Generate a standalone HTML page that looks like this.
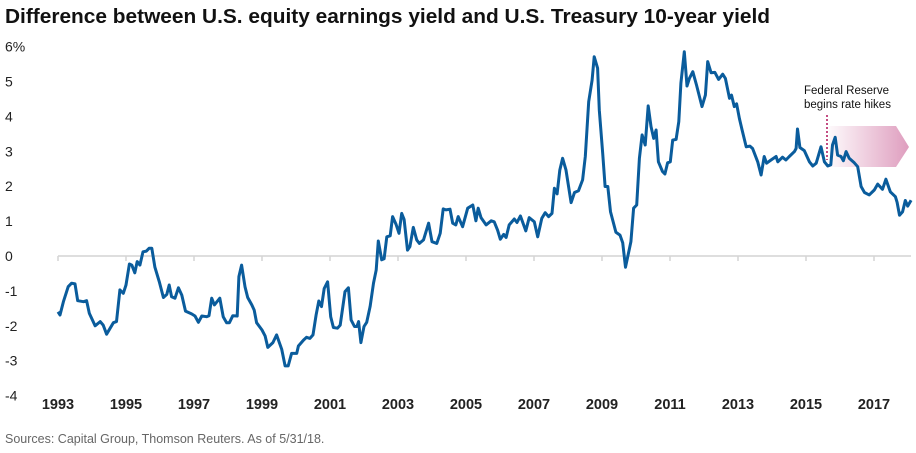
<!DOCTYPE html>
<html><head><meta charset="utf-8"><style>
html,body{margin:0;padding:0;background:#fff;}
svg{display:block;font-family:"Liberation Sans",sans-serif;}
</style></head><body>
<svg id="chart" width="916" height="453" viewBox="0 0 916 453">
<defs>
<linearGradient id="pinkGrad" x1="0" x2="1" y1="0" y2="0">
<stop offset="0" stop-color="#d98cb3" stop-opacity="0.05"/>
<stop offset="1" stop-color="#d98cb3" stop-opacity="0.85"/>
</linearGradient>
</defs>
<text x="5" y="23" font-size="20" font-weight="bold" fill="#111" textLength="765" lengthAdjust="spacingAndGlyphs">Difference between U.S. equity earnings yield and U.S. Treasury 10-year yield</text>
<g id="yaxis"></g>
<g id="xaxis"></g>
<g id="annot">
<polygon points="829,126 896,126 909,147 896,167 829,167" fill="url(#pinkGrad)"/>
<line x1="827" y1="115" x2="827" y2="160" stroke="#b0125a" stroke-width="1.5" stroke-dasharray="2,2"/>
<text x="804" y="94" font-size="11.5" fill="#111">Federal Reserve</text>
<text x="804" y="108" font-size="11.5" fill="#111">begins rate hikes</text>
</g>
<path id="series" fill="none" stroke="#0a5c9c" stroke-width="3" stroke-linejoin="round"/>
<text x="5" y="443" font-size="12.5" fill="#666">Sources: Capital Group, Thomson Reuters. As of 5/31/18.</text>
</svg>
<script>
const yTicks=[6,5,4,3,2,1,0,-1,-2,-3,-4];
const yTickLabels=["6%","5","4","3","2","1","0","-1","-2","-3","-4"];
const xTicks=[1993,1995,1997,1999,2001,2003,2005,2007,2009,2011,2013,2015,2017];
const years=[1993.0,1993.06,1993.16,1993.3,1993.4,1993.5,1993.58,1993.75,1993.84,1993.92,1994.09,1994.24,1994.33,1994.43,1994.63,1994.72,1994.82,1994.92,1995.0,1995.1,1995.17,1995.26,1995.33,1995.41,1995.5,1995.6,1995.68,1995.76,1995.85,1995.98,1996.1,1996.2,1996.27,1996.34,1996.44,1996.54,1996.64,1996.75,1996.93,1997.03,1997.13,1997.23,1997.37,1997.44,1997.52,1997.6,1997.76,1997.86,1997.96,1998.04,1998.14,1998.27,1998.32,1998.4,1998.5,1998.58,1998.7,1998.77,1998.84,1999.0,1999.09,1999.17,1999.32,1999.43,1999.58,1999.68,1999.77,1999.87,2000.02,2000.07,2000.22,2000.31,2000.41,2000.5,2000.59,2000.67,2000.75,2000.83,2000.93,2001.02,2001.1,2001.22,2001.3,2001.44,2001.54,2001.62,2001.72,2001.79,2001.84,2001.91,2002.0,2002.08,2002.18,2002.28,2002.36,2002.42,2002.52,2002.59,2002.67,2002.77,2002.84,2002.94,2003.03,2003.11,2003.18,2003.28,2003.35,2003.45,2003.55,2003.63,2003.75,2003.9,2004.0,2004.14,2004.24,2004.33,2004.41,2004.53,2004.61,2004.7,2004.77,2004.9,2005.05,2005.2,2005.29,2005.36,2005.44,2005.59,2005.74,2005.83,2005.93,2006.01,2006.11,2006.18,2006.27,2006.42,2006.5,2006.6,2006.76,2006.86,2007.01,2007.11,2007.23,2007.33,2007.43,2007.53,2007.6,2007.68,2007.76,2007.84,2007.94,2008.09,2008.19,2008.31,2008.43,2008.51,2008.61,2008.71,2008.77,2008.87,2008.92,2009.02,2009.09,2009.17,2009.25,2009.41,2009.53,2009.61,2009.69,2009.85,2009.93,2010.02,2010.1,2010.18,2010.27,2010.36,2010.44,2010.52,2010.59,2010.66,2010.78,2010.85,2010.93,2011.01,2011.08,2011.18,2011.26,2011.32,2011.42,2011.5,2011.57,2011.67,2011.78,2011.94,2012.04,2012.11,2012.21,2012.32,2012.43,2012.55,2012.63,2012.75,2012.81,2012.89,2012.96,2013.04,2013.12,2013.24,2013.35,2013.43,2013.58,2013.68,2013.77,2013.84,2013.97,2014.12,2014.17,2014.31,2014.41,2014.51,2014.66,2014.71,2014.75,2014.82,2014.95,2015.1,2015.2,2015.3,2015.44,2015.54,2015.64,2015.73,2015.78,2015.86,2015.93,2016.03,2016.1,2016.18,2016.27,2016.42,2016.52,2016.62,2016.72,2016.86,2017.01,2017.11,2017.25,2017.35,2017.48,2017.63,2017.68,2017.75,2017.84,2017.92,2017.99,2018.09];
const spread=[-1.6,-1.69,-1.31,-0.88,-0.78,-0.8,-1.28,-1.31,-1.28,-1.64,-2.0,-1.88,-1.98,-2.24,-1.91,-1.88,-0.97,-1.07,-0.83,-0.23,-0.26,-0.48,-0.16,-0.26,0.12,0.14,0.22,0.22,-0.32,-0.74,-1.19,-1.1,-0.83,-1.17,-1.21,-0.91,-1.12,-1.58,-1.66,-1.72,-1.9,-1.72,-1.74,-1.71,-1.21,-1.4,-1.21,-1.74,-1.91,-1.91,-1.71,-1.72,-0.59,-0.26,-0.88,-1.19,-1.4,-1.55,-1.91,-2.12,-2.29,-2.62,-2.48,-2.26,-2.67,-3.15,-3.15,-2.79,-2.79,-2.58,-2.41,-2.33,-2.36,-2.26,-1.69,-1.29,-1.45,-0.93,-0.74,-1.74,-2.05,-2.07,-1.98,-1.02,-0.91,-1.83,-2.02,-2.02,-1.88,-2.48,-2.02,-1.9,-1.45,-0.78,-0.4,0.43,-0.11,-0.08,0.55,0.58,1.13,0.91,0.65,1.22,1.05,0.17,0.27,0.82,0.46,0.36,0.46,0.94,0.41,0.36,0.65,1.35,1.32,1.34,0.94,0.89,1.13,0.84,1.37,1.46,1.01,1.37,1.1,0.89,1.01,0.98,0.74,0.48,0.62,0.53,0.89,1.06,0.96,1.15,0.72,1.1,0.98,0.55,1.08,1.24,1.13,1.22,1.94,1.78,2.46,2.8,2.46,1.53,1.82,1.87,2.18,2.85,4.42,5.04,5.71,5.38,4.18,2.94,1.99,1.99,1.27,0.68,0.6,0.38,-0.32,0.41,1.37,1.46,2.8,3.47,3.18,4.3,3.71,3.37,3.61,2.7,2.42,2.35,2.67,2.7,3.32,3.34,3.85,4.95,5.85,4.87,5.09,5.28,4.9,4.28,4.61,5.57,5.25,5.26,5.06,5.21,5.09,4.52,4.61,4.28,4.36,3.94,3.61,3.13,3.15,3.08,2.7,2.32,2.85,2.66,2.75,2.85,2.7,2.83,2.75,2.85,2.99,3.08,3.64,3.11,3.02,2.7,2.58,2.66,3.13,2.7,2.58,2.61,3.18,3.4,2.89,2.85,2.73,2.99,2.8,2.67,2.56,1.99,1.82,1.75,1.89,2.06,1.91,2.2,1.84,1.7,1.54,1.17,1.27,1.59,1.43,1.6];

const NS="http://www.w3.org/2000/svg";
function xScale(yr){return 58+(yr-1993)*34;}
function yScale(v){return 256-v*34.9;}

const ya=document.getElementById('yaxis');
yTicks.forEach((v,i)=>{
  const t=document.createElementNS(NS,'text');
  
  
  t.setAttribute('x',5);t.setAttribute('y',yScale(v)+5);
  t.setAttribute('font-size','14');t.setAttribute('fill','#222');
  t.textContent=yTickLabels[i];ya.appendChild(t);
});
const xa=document.getElementById('xaxis');
const base=document.createElementNS(NS,'line');


base.setAttribute('x1',58);base.setAttribute('x2',911);
base.setAttribute('y1',yScale(0));base.setAttribute('y2',yScale(0));
base.setAttribute('stroke','#d4d4d4');base.setAttribute('stroke-width','1.5');
xa.appendChild(base);
xTicks.forEach(yr=>{
  const l=document.createElementNS(NS,'line');
  
  
  l.setAttribute('x1',xScale(yr));l.setAttribute('x2',xScale(yr));
  l.setAttribute('y1',yScale(0));l.setAttribute('y2',yScale(0)+5);
  l.setAttribute('stroke','#d4d4d4');l.setAttribute('stroke-width','1.5');
  xa.appendChild(l);
  const t=document.createElementNS(NS,'text');
  
  
  t.setAttribute('x',xScale(yr));t.setAttribute('y',409);
  t.setAttribute('text-anchor','middle');t.setAttribute('font-size','14.5');
  t.setAttribute('font-weight','bold');t.setAttribute('fill','#222');
  t.textContent=String(yr);xa.appendChild(t);
});
let d='';
years.forEach((yr,i)=>{d+=(i?'L':'M')+xScale(yr).toFixed(1)+','+yScale(spread[i]).toFixed(1);});
document.getElementById('series').setAttribute('d',d);
</script>
</body></html>
